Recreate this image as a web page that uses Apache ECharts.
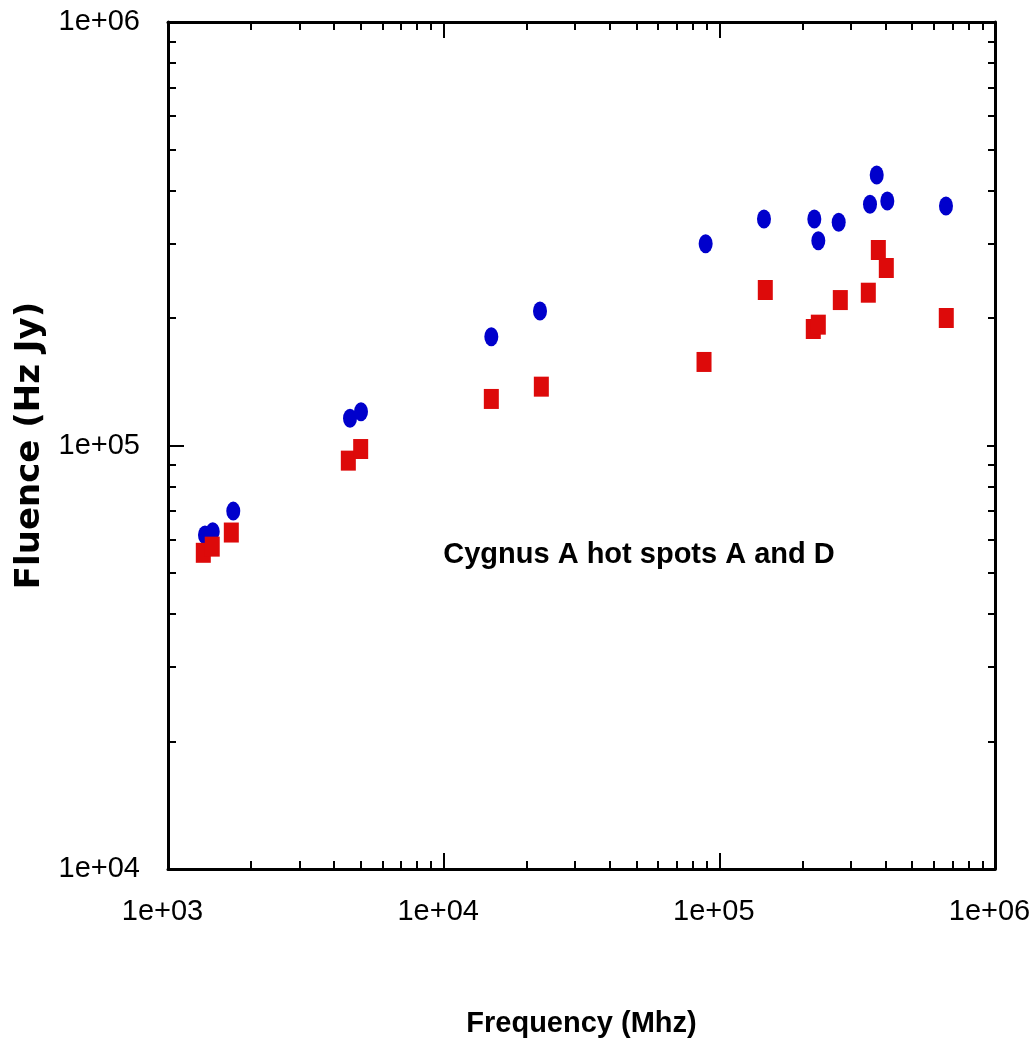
<!DOCTYPE html>
<html><head><meta charset="utf-8">
<script src="https://cdn.jsdelivr.net/npm/echarts@6/dist/echarts.min.js"></script>
<style>html,body{margin:0;padding:0;background:#fff}#c{width:1032px;height:1045px}</style>
</head><body><div id="c"></div>
<script>
// Hot spot series 1 (blue circles)
const freqCircles = [1362, 1453, 1725, 4574, 5013, 14890, 22360, 89200, 145200, 221100, 228600, 271000, 352000, 372300, 406800, 664000];
const fluenceCircles = [61500, 62600, 70000, 116000, 120200, 180700, 207800, 299600, 342600, 342600, 304500, 336500, 371200, 435300, 377900, 367800];
// Hot spot series 2 (red squares)
const freqSquares = [1343, 1447, 1697, 4510, 5000, 14890, 22610, 88000, 146800, 219200, 228600, 274700, 347100, 377400, 403400, 665700];
const fluenceSquares = [55800, 57700, 62300, 92100, 98100, 128800, 137700, 157500, 232900, 188400, 192900, 220500, 229500, 289500, 262500, 200000];

const xMajorTicks = [1e3, 1e4, 1e5, 1e6];
const xMinorTicks = [2e3, 3e3, 4e3, 5e3, 6e3, 7e3, 8e3, 9e3, 2e4, 3e4, 4e4, 5e4, 6e4, 7e4, 8e4, 9e4, 2e5, 3e5, 4e5, 5e5, 6e5, 7e5, 8e5, 9e5];
const yMajorTicks = [1e4, 1e5, 1e6];
const yMinorTicks = [2e4, 3e4, 4e4, 5e4, 6e4, 7e4, 8e4, 9e4, 2e5, 3e5, 4e5, 5e5, 6e5, 7e5, 8e5, 9e5];

const titleX = 'Frequency (Mhz)';
const titleY = 'Fluence (Hz Jy)';
const note = 'Cygnus A hot spots A and D';

const tickFont = '"Liberation Sans", Arial, sans-serif';
function expLabel(v) {
  const e = Math.round(Math.log10(v));
  return '1e+' + String(e).padStart(2, '0');
}

function mkAxis(dim, pos, major, withLine, withLabel, ticks, len, extra) {
  const isX = dim === 'x';
  const a = {
    type: 'log', logBase: 10,
    min: isX ? 1e3 : 1e4, max: 1e6,
    position: pos, gridIndex: 0,
    axisLine: { show: withLine, onZero: false, lineStyle: { color: '#000', width: 3 } },
    axisTick: { show: true, inside: true, length: len, customValues: ticks, lineStyle: { color: '#000', width: 2 } },
    axisLabel: withLabel ? {
      show: true, customValues: major, formatter: expLabel,
      fontFamily: tickFont, fontSize: 29, color: '#000', margin: isX ? 28 : 28,
      padding: isX ? [0, 11, 0, 0] : [6, 0, 0, 0]
    } : { show: false },
    splitLine: { show: false },
    minorTick: { show: false },
    minorSplitLine: { show: false }
  };
  return Object.assign(a, extra || {});
}

const chart = echarts.init(document.getElementById('c'), null, { renderer: 'canvas' });
chart.setOption({
  backgroundColor: '#fff',
  animation: false,
  grid: { left: 168, top: 22, right: 37, bottom: 176, containLabel: false, outerBoundsMode: 'none' },
  xAxis: [
    mkAxis('x', 'bottom', xMajorTicks, true, true, xMajorTicks, 16, {
      name: titleX, nameLocation: 'middle', nameGap: 140,
      nameTextStyle: { fontFamily: '"Liberation Sans", Arial, sans-serif', fontWeight: 'bold', fontSize: 29, color: '#000' }
    }),
    mkAxis('x', 'bottom', xMajorTicks, false, false, xMinorTicks, 8),
    mkAxis('x', 'top', xMajorTicks, true, false, xMajorTicks, 16),
    mkAxis('x', 'top', xMajorTicks, false, false, xMinorTicks, 8)
  ],
  yAxis: [
    mkAxis('y', 'left', yMajorTicks, true, true, yMajorTicks, 16, {
      name: titleY, nameLocation: 'middle', nameGap: 87, nameRotate: 90,
      nameTextStyle: { fontFamily: '"DejaVu Sans", sans-serif', fontWeight: 'bold', fontSize: 34, color: '#000' }
    }),
    mkAxis('y', 'left', yMajorTicks, false, false, yMinorTicks, 8),
    mkAxis('y', 'right', yMajorTicks, true, false, yMajorTicks, 8),
    mkAxis('y', 'right', yMajorTicks, false, false, yMinorTicks, 7)
  ],
  graphic: [{
    type: 'text', x: 639, y: 555,
    style: {
      text: note, fill: '#000',
      font: 'bold 29px "Liberation Sans", Arial, sans-serif',
      textAlign: 'center', textVerticalAlign: 'middle'
    }
  }],
  series: [
    {
      name: 'circles', type: 'scatter', xAxisIndex: 0, yAxisIndex: 0,
      symbol: 'circle', symbolSize: [14, 19],
      itemStyle: { color: '#0000cc', opacity: 1 },
      data: freqCircles.map((f, i) => [f, fluenceCircles[i]]),
      z: 2
    },
    {
      name: 'squares', type: 'scatter', xAxisIndex: 0, yAxisIndex: 0,
      symbol: 'rect', symbolSize: [15, 20],
      itemStyle: { color: '#dd0a0a', opacity: 1 },
      data: freqSquares.map((f, i) => [f, fluenceSquares[i]]),
      z: 3
    }
  ]
});
</script>
</body></html>
